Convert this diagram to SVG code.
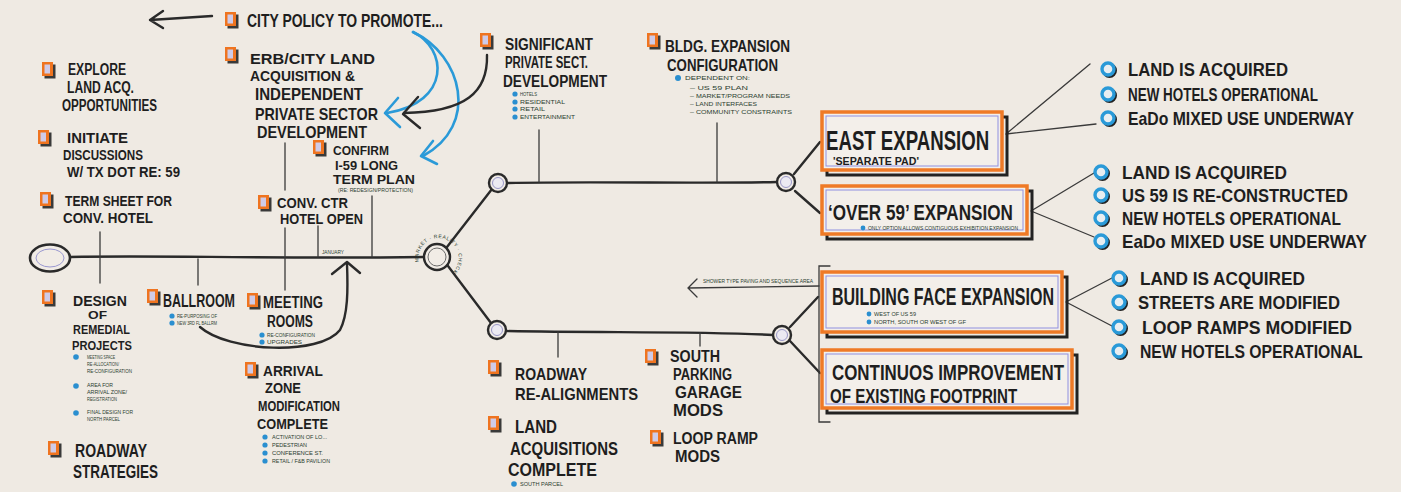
<svg xmlns="http://www.w3.org/2000/svg" xmlns:xlink="http://www.w3.org/1999/xlink" width="1401" height="492" viewBox="0 0 1401 492">
  <style>
    .t { font-family: "Liberation Sans Narrow", "Liberation Sans", "DejaVu Sans Condensed", sans-serif; font-weight: bold; fill: #1e1e1e; }
    .s { font-family: "Liberation Sans Narrow", "Liberation Sans", sans-serif; fill: #2b4030; font-size: 5px; }
    .ln { fill: none; stroke: #2a2a2a; stroke-width: 2.4; stroke-linecap: round; stroke-linejoin: round; }
    .thin { fill: none; stroke: #3a3a3a; stroke-width: 1.3; stroke-linecap: round; }
    .blue { fill: none; stroke: #2a9ad8; stroke-width: 2.6; stroke-linecap: round; stroke-linejoin: round; }
    .dot { fill: #2a8fd0; }
    .box { fill: #f3efea; stroke: #ef7a26; stroke-width: 3.5; }
    .boxin { fill: none; stroke: #8f90e0; stroke-width: 1; }
    .boxsh { fill: none; stroke: #222; stroke-width: 3; }
  </style>
  <defs>
    <!-- orange marker square with drop shadow -->
    <g id="ic">
      <rect x="2.5" y="2.5" width="11" height="14" fill="#3a3a3a"/>
      <rect x="0" y="0" width="11" height="14" fill="#ef7420"/>
      <rect x="2.5" y="2.5" width="5.5" height="9" fill="#cfcbe8"/>
    </g>
    <!-- large hollow blue bullet -->
    <g id="bb">
      <circle cx="1.5" cy="1.5" r="6" fill="none" stroke="#222" stroke-width="3"/>
      <circle cx="0" cy="0" r="6" fill="#e9eef1" stroke="#2a9ad8" stroke-width="3.4"/>
    </g>
    <!-- timeline junction -->
    <g id="jn">
      <circle r="9" fill="#f1ece6" stroke="#2a2a2a" stroke-width="2.4"/>
      <circle r="5.5" fill="#eceaf2" stroke="#9a98c8" stroke-width="1"/>
    </g>
    <path id="hubArc" d="M 419,262 A 20,20 0 1 1 445,277"/>
  </defs>

  <rect width="1401" height="492" fill="#efeae3"/>

  <!-- connectors -->
  <g id="connectors">
    <!-- main timeline -->
    <path class="ln" d="M70,257 C160,255 260,259 424,257"/>
    <path class="ln" d="M447,247 L492,189"/>
    <path class="ln" d="M448,266 L491,323"/>
    <path class="ln" d="M507,183 C600,181 700,184 777,182"/>
    <path class="ln" d="M505,331 C600,333 700,331 773,335"/>
    <path class="ln" d="M794,174 L820,142"/>
    <path class="ln" d="M795,191 L820,213"/>
    <path class="ln" d="M790,327 L818,297"/>
    <path class="ln" d="M790,341 L820,373"/>
    <!-- drops to timeline -->
    <path class="thin" d="M100,232 L100,283"/>
    <path class="thin" d="M285,143 L285,190 M285,228 L285,290"/>
    <path class="thin" d="M318,226 L318,257"/>
    <path class="thin" d="M372,196 L372,257"/>
    <path class="thin" d="M198,259 L198,285"/>
    <path class="thin" d="M539,130 L539,182"/>
    <path class="thin" d="M717,123 L717,182"/>
    <path class="thin" d="M558,332 L558,357"/>
    <path class="thin" d="M700,333 L700,346"/>
    <!-- policy arrow -->
    <path class="ln" d="M212,16 L150,20 M163,11 L150,20 L163,28"/>
    <!-- blue influence curves -->
    <path class="blue" d="M413,32 C447,48 452,102 387,113"/>
    <path class="blue" d="M398,98 L385,113 L400,127"/>
    <path class="blue" d="M413,32 C462,55 480,125 423,156"/>
    <path class="blue" d="M433,141 L421,156 L437,164"/>
    <!-- black curve from private development -->
    <path class="ln" d="M487,55 C488,92 466,112 404,113"/>
    <path class="ln" d="M418,97 L403,114 L420,128"/>
    <!-- ballroom loop back to timeline -->
    <path class="ln" d="M200,327 C228,352 320,356 340,330 C348,315 348,290 347,264"/>
    <path class="ln" d="M332,274 L347,262 L360,273"/>
    <!-- bracket and arrow -->
    <path class="thin" d="M830,266 L819,266 L819,422 L830,422"/>
    <path class="thin" d="M819,286 L688,288 M697,279 L688,288 L697,297"/>
    <!-- lines to outcomes -->
    <path class="thin" d="M1006,134 L1090,64 M1006,134 L1096,124"/>
    <path class="thin" d="M1031,211 L1094,173 M1031,211 L1094,237"/>
    <path class="thin" d="M1066,302 L1112,278 M1066,302 L1112,326"/>
  </g>

  <!-- timeline start and hub -->
  <g id="start">
    <ellipse cx="50" cy="258" rx="20" ry="13.5" fill="#f1ece6" stroke="#2a2a2a" stroke-width="2.6"/>
    <ellipse cx="50" cy="258" rx="14" ry="9" fill="none" stroke="#9a98d0" stroke-width="1"/>
  </g>
  <g id="hub">
    <circle cx="437" cy="257" r="13" fill="#f1ece6" stroke="#2a2a2a" stroke-width="2.4"/>
    <circle cx="437" cy="257" r="9" fill="none" stroke="#6a6a6a" stroke-width="1"/>
    <text class="s" font-size="5.5" letter-spacing="0.6"><textPath xlink:href="#hubArc" href="#hubArc">MARKET · REALITY · CHECK</textPath></text>
  </g>
  <g id="j1"><use href="#jn" x="498" y="183"/></g>
  <g id="j2"><use href="#jn" x="786" y="182"/></g>
  <g id="j3"><use href="#jn" x="497" y="330"/></g>
  <g id="j4"><use href="#jn" x="782" y="335"/></g>
  <g id="jan"><text class="s" x="322" y="254" textLength="22" lengthAdjust="spacingAndGlyphs">JANUARY</text></g>

  <!-- upper left items -->
  <g id="policy">
    <use href="#ic" x="225" y="12"/>
    <text class="t" x="247" y="27" font-size="18" textLength="196" lengthAdjust="spacingAndGlyphs">CITY POLICY TO PROMOTE...</text>
  </g>
  <g id="erb">
    <use href="#ic" x="225" y="47"/>
    <text class="t" x="250" y="64" font-size="15" textLength="125" lengthAdjust="spacingAndGlyphs">ERB/CITY LAND</text>
    <text class="t" x="250" y="81" font-size="15" textLength="105" lengthAdjust="spacingAndGlyphs">ACQUISITION &amp;</text>
    <text class="t" x="255" y="100" font-size="17" textLength="108" lengthAdjust="spacingAndGlyphs">INDEPENDENT</text>
    <text class="t" x="255" y="120" font-size="17" textLength="123" lengthAdjust="spacingAndGlyphs">PRIVATE SECTOR</text>
    <text class="t" x="257" y="138" font-size="16" textLength="110" lengthAdjust="spacingAndGlyphs">DEVELOPMENT</text>
  </g>
  <g id="confirm">
    <use href="#ic" x="313" y="140"/>
    <text class="t" x="333" y="155" font-size="13" textLength="56" lengthAdjust="spacingAndGlyphs">CONFIRM</text>
    <text class="t" x="335" y="170" font-size="13" textLength="63" lengthAdjust="spacingAndGlyphs">I-59 LONG</text>
    <text class="t" x="333" y="184" font-size="13" textLength="82" lengthAdjust="spacingAndGlyphs">TERM PLAN</text>
    <text class="s" x="338" y="192" textLength="75" lengthAdjust="spacingAndGlyphs">(RE: REDESIGN/PROTECTION)</text>
  </g>
  <g id="explore">
    <use href="#ic" x="42" y="62"/>
    <text class="t" x="68" y="75" font-size="16" textLength="58" lengthAdjust="spacingAndGlyphs">EXPLORE</text>
    <text class="t" x="67" y="93" font-size="16" textLength="67" lengthAdjust="spacingAndGlyphs">LAND ACQ.</text>
    <text class="t" x="62" y="111" font-size="16" textLength="95" lengthAdjust="spacingAndGlyphs">OPPORTUNITIES</text>
  </g>
  <g id="initiate">
    <use href="#ic" x="38" y="130"/>
    <text class="t" x="67" y="143" font-size="14.5" textLength="61" lengthAdjust="spacingAndGlyphs">INITIATE</text>
    <text class="t" x="63" y="160" font-size="14.5" textLength="80" lengthAdjust="spacingAndGlyphs">DISCUSSIONS</text>
    <text class="t" x="67" y="177" font-size="14.5" textLength="113" lengthAdjust="spacingAndGlyphs">W/ TX DOT RE: 59</text>
  </g>
  <g id="termsheet">
    <use href="#ic" x="40" y="192"/>
    <text class="t" x="65" y="206" font-size="15" textLength="107" lengthAdjust="spacingAndGlyphs">TERM SHEET FOR</text>
    <text class="t" x="63" y="223" font-size="15" textLength="90" lengthAdjust="spacingAndGlyphs">CONV. HOTEL</text>
  </g>
  <g id="hotel">
    <use href="#ic" x="258" y="195"/>
    <text class="t" x="277" y="208" font-size="14.5" textLength="71" lengthAdjust="spacingAndGlyphs">CONV. CTR</text>
    <text class="t" x="280" y="224" font-size="14.5" textLength="83" lengthAdjust="spacingAndGlyphs">HOTEL OPEN</text>
  </g>

  <!-- lower left items -->
  <g id="design">
    <use href="#ic" x="42" y="290"/>
    <text class="t" x="73" y="306" font-size="15" textLength="54" lengthAdjust="spacingAndGlyphs">DESIGN</text>
    <text class="t" x="88" y="319" font-size="11" textLength="19" lengthAdjust="spacingAndGlyphs">OF</text>
    <text class="t" x="73" y="334" font-size="13" textLength="57" lengthAdjust="spacingAndGlyphs">REMEDIAL</text>
    <text class="t" x="72" y="350" font-size="13" textLength="60" lengthAdjust="spacingAndGlyphs">PROJECTS</text>
    <circle class="dot" cx="76" cy="357" r="2.8"/>
    <text class="s" x="87" y="359" textLength="28" lengthAdjust="spacingAndGlyphs">MEETING SPACE</text>
    <text class="s" x="87" y="366" textLength="32" lengthAdjust="spacingAndGlyphs">RE-ALLOCATION/</text>
    <text class="s" x="87" y="373" textLength="45" lengthAdjust="spacingAndGlyphs">RE-CONFIGURATION</text>
    <circle class="dot" cx="76" cy="386" r="2.8"/>
    <text class="s" x="87" y="387" textLength="26" lengthAdjust="spacingAndGlyphs">AREA FOR</text>
    <text class="s" x="87" y="394" textLength="40" lengthAdjust="spacingAndGlyphs">ARRIVAL ZONE/</text>
    <text class="s" x="87" y="401" textLength="30" lengthAdjust="spacingAndGlyphs">REGISTRATION</text>
    <circle class="dot" cx="76" cy="413" r="2.8"/>
    <text class="s" x="87" y="414" textLength="46" lengthAdjust="spacingAndGlyphs">FINAL DESIGN FOR</text>
    <text class="s" x="87" y="421" textLength="33" lengthAdjust="spacingAndGlyphs">NORTH PARCEL</text>
  </g>
  <g id="roadwaystrat">
    <use href="#ic" x="48" y="441"/>
    <text class="t" x="75" y="457" font-size="18" textLength="72" lengthAdjust="spacingAndGlyphs">ROADWAY</text>
    <text class="t" x="73" y="478" font-size="18" textLength="85" lengthAdjust="spacingAndGlyphs">STRATEGIES</text>
  </g>
  <g id="ballroom">
    <use href="#ic" x="147" y="289"/>
    <text class="t" transform="translate(163,307) scale(0.75,1)" font-size="19" textLength="96" lengthAdjust="spacingAndGlyphs">BALLROOM</text>
    <circle class="dot" cx="172" cy="316" r="2.6"/>
    <text class="s" x="177" y="318" textLength="40" lengthAdjust="spacingAndGlyphs">RE-PURPOSING OF</text>
    <circle class="dot" cx="172" cy="323" r="2.6"/>
    <text class="s" x="177" y="325" textLength="40" lengthAdjust="spacingAndGlyphs">NEW 3RD FL BALLRM</text>
  </g>
  <g id="meeting">
    <use href="#ic" x="247" y="293"/>
    <text class="t" x="263" y="308" font-size="16" textLength="60" lengthAdjust="spacingAndGlyphs">MEETING</text>
    <text class="t" x="267" y="327" font-size="16" textLength="46" lengthAdjust="spacingAndGlyphs">ROOMS</text>
    <circle class="dot" cx="262" cy="335" r="2.6"/>
    <text class="s" x="267" y="337" textLength="48" lengthAdjust="spacingAndGlyphs">RE-CONFIGURATION</text>
    <circle class="dot" cx="262" cy="342" r="2.6"/>
    <text class="s" x="267" y="344" textLength="35" lengthAdjust="spacingAndGlyphs">UPGRADES</text>
  </g>
  <g id="arrival">
    <use href="#ic" x="245" y="362"/>
    <text class="t" x="263" y="376" font-size="15" textLength="60" lengthAdjust="spacingAndGlyphs">ARRIVAL</text>
    <text class="t" x="265" y="393" font-size="15" textLength="36" lengthAdjust="spacingAndGlyphs">ZONE</text>
    <text class="t" x="258" y="411" font-size="15" textLength="82" lengthAdjust="spacingAndGlyphs">MODIFICATION</text>
    <text class="t" x="257" y="429" font-size="15" textLength="71" lengthAdjust="spacingAndGlyphs">COMPLETE</text>
    <circle class="dot" cx="265" cy="437" r="2.6"/>
    <text class="s" x="272" y="439" textLength="55" lengthAdjust="spacingAndGlyphs">ACTIVATION OF LO...</text>
    <circle class="dot" cx="265" cy="445" r="2.6"/>
    <text class="s" x="272" y="447" textLength="35" lengthAdjust="spacingAndGlyphs">PEDESTRIAN</text>
    <circle class="dot" cx="265" cy="453" r="2.6"/>
    <text class="s" x="272" y="455" textLength="51" lengthAdjust="spacingAndGlyphs">CONFERENCE ST.</text>
    <circle class="dot" cx="265" cy="461" r="2.6"/>
    <text class="s" x="272" y="463" textLength="58" lengthAdjust="spacingAndGlyphs">RETAIL / F&amp;B PAVILION</text>
  </g>

  <!-- centre items -->
  <g id="private">
    <use href="#ic" x="480" y="33"/>
    <text class="t" x="505" y="50" font-size="16" textLength="88" lengthAdjust="spacingAndGlyphs">SIGNIFICANT</text>
    <text class="t" x="505" y="68" font-size="16" textLength="83" lengthAdjust="spacingAndGlyphs">PRIVATE SECT.</text>
    <text class="t" x="503" y="87" font-size="16" textLength="104" lengthAdjust="spacingAndGlyphs">DEVELOPMENT</text>
    <circle class="dot" cx="515" cy="94" r="2.6"/>
    <text class="s" x="520" y="96" textLength="17" lengthAdjust="spacingAndGlyphs">HOTELS</text>
    <circle class="dot" cx="515" cy="102" r="2.6"/>
    <text class="s" x="520" y="104" textLength="45" lengthAdjust="spacingAndGlyphs">RESIDENTIAL</text>
    <circle class="dot" cx="515" cy="109" r="2.6"/>
    <text class="s" x="520" y="111" textLength="25" lengthAdjust="spacingAndGlyphs">RETAIL</text>
    <circle class="dot" cx="515" cy="117" r="2.6"/>
    <text class="s" x="520" y="119" textLength="55" lengthAdjust="spacingAndGlyphs">ENTERTAINMENT</text>
  </g>
  <g id="bldgconfig">
    <use href="#ic" x="647" y="33"/>
    <text class="t" x="665" y="52" font-size="17" textLength="125" lengthAdjust="spacingAndGlyphs">BLDG. EXPANSION</text>
    <text class="t" x="667" y="71" font-size="17" textLength="111" lengthAdjust="spacingAndGlyphs">CONFIGURATION</text>
    <circle class="dot" cx="678" cy="78" r="3"/>
    <text class="s" x="685" y="80" textLength="65" lengthAdjust="spacingAndGlyphs">DEPENDENT ON:</text>
    <text class="s" x="690" y="90" textLength="58" lengthAdjust="spacingAndGlyphs">– US 59 PLAN</text>
    <text class="s" x="690" y="98" textLength="100" lengthAdjust="spacingAndGlyphs">– MARKET/PROGRAM NEEDS</text>
    <text class="s" x="690" y="106" textLength="67" lengthAdjust="spacingAndGlyphs">– LAND INTERFACES</text>
    <text class="s" x="690" y="114" textLength="102" lengthAdjust="spacingAndGlyphs">– COMMUNITY CONSTRAINTS</text>
  </g>
  <g id="roadwayre">
    <use href="#ic" x="488" y="360"/>
    <text class="t" x="515" y="380" font-size="17" textLength="72" lengthAdjust="spacingAndGlyphs">ROADWAY</text>
    <text class="t" x="515" y="400" font-size="17" textLength="123" lengthAdjust="spacingAndGlyphs">RE-ALIGNMENTS</text>
  </g>
  <g id="landacq">
    <use href="#ic" x="488" y="416"/>
    <text class="t" x="515" y="433" font-size="18" textLength="42" lengthAdjust="spacingAndGlyphs">LAND</text>
    <text class="t" x="510" y="455" font-size="18" textLength="108" lengthAdjust="spacingAndGlyphs">ACQUISITIONS</text>
    <text class="t" x="508" y="476" font-size="18" textLength="89" lengthAdjust="spacingAndGlyphs">COMPLETE</text>
    <circle class="dot" cx="514" cy="484" r="2.8"/>
    <text class="s" x="520" y="486" textLength="43" lengthAdjust="spacingAndGlyphs">SOUTH PARCEL</text>
  </g>
  <g id="parking">
    <use href="#ic" x="645" y="349"/>
    <text class="t" x="670" y="362" font-size="16" textLength="50" lengthAdjust="spacingAndGlyphs">SOUTH</text>
    <text class="t" x="673" y="380" font-size="16" textLength="59" lengthAdjust="spacingAndGlyphs">PARKING</text>
    <text class="t" x="675" y="398" font-size="16" textLength="67" lengthAdjust="spacingAndGlyphs">GARAGE</text>
    <text class="t" x="673" y="416" font-size="16" textLength="50" lengthAdjust="spacingAndGlyphs">MODS</text>
  </g>
  <g id="loopramp">
    <use href="#ic" x="650" y="430"/>
    <text class="t" x="673" y="444" font-size="16" textLength="85" lengthAdjust="spacingAndGlyphs">LOOP RAMP</text>
    <text class="t" x="675" y="462" font-size="16" textLength="45" lengthAdjust="spacingAndGlyphs">MODS</text>
  </g>
  <g id="paving-note">
    <text class="s" x="703" y="283" textLength="110" lengthAdjust="spacingAndGlyphs">SHOWER TYPE PAVING AND SEQUENCE AREA</text>
  </g>

  <!-- expansion options -->
  <g id="east">
    <rect class="boxsh" x="827" y="117" width="180" height="58"/>
    <rect class="box" x="822" y="112" width="180" height="58"/>
    <rect class="boxin" x="826" y="116" width="172" height="50"/>
    <text class="t" transform="translate(826,150) scale(0.8,1)" font-size="27" textLength="204" lengthAdjust="spacingAndGlyphs">EAST EXPANSION</text>
    <text class="t" x="833" y="165" font-size="11" textLength="86" lengthAdjust="spacingAndGlyphs">'SEPARATE PAD'</text>
  </g>
  <g id="over59">
    <rect class="boxsh" x="827" y="191" width="205" height="48"/>
    <rect class="box" x="822" y="186" width="205" height="48"/>
    <rect class="boxin" x="826" y="190" width="197" height="40"/>
    <text class="t" transform="translate(828,220) scale(0.8,1)" font-size="22" textLength="231" lengthAdjust="spacingAndGlyphs">‘OVER 59’ EXPANSION</text>
    <circle class="dot" cx="863" cy="228" r="2.4"/>
    <text class="s" x="868" y="230" textLength="150" lengthAdjust="spacingAndGlyphs">ONLY OPTION ALLOWS CONTIGUOUS EXHIBITION EXPANSION</text>
  </g>
  <g id="buildingface">
    <rect class="boxsh" x="827" y="277" width="240" height="60"/>
    <rect class="box" x="822" y="272" width="240" height="60"/>
    <rect class="boxin" x="826" y="276" width="232" height="52"/>
    <text class="t" transform="translate(832,305) scale(0.8,1)" font-size="24" textLength="277.5" lengthAdjust="spacingAndGlyphs">BUILDING FACE EXPANSION</text>
    <circle class="dot" cx="869" cy="314" r="2.4"/>
    <text class="s" x="874" y="316" textLength="42" lengthAdjust="spacingAndGlyphs">WEST OF US 59</text>
    <circle class="dot" cx="869" cy="322" r="2.4"/>
    <text class="s" x="874" y="324" textLength="92" lengthAdjust="spacingAndGlyphs">NORTH, SOUTH OR WEST OF GF</text>
  </g>
  <g id="continuous">
    <rect class="boxsh" x="827" y="355" width="250" height="58"/>
    <rect class="box" x="822" y="350" width="250" height="58"/>
    <rect class="boxin" x="826" y="354" width="242" height="50"/>
    <text class="t" transform="translate(832,380) scale(0.8,1)" font-size="22" textLength="290" lengthAdjust="spacingAndGlyphs">CONTINUOS IMPROVEMENT</text>
    <text class="t" transform="translate(830,403) scale(0.8,1)" font-size="20" textLength="234" lengthAdjust="spacingAndGlyphs">OF EXISTING FOOTPRINT</text>
  </g>

  <!-- outcomes -->
  <g id="east-outcomes">
    <use href="#bb" x="1108" y="69"/>
    <text class="t" x="1128" y="76" font-size="19" textLength="160" lengthAdjust="spacingAndGlyphs">LAND IS ACQUIRED</text>
    <use href="#bb" x="1108" y="94"/>
    <text class="t" x="1128" y="101" font-size="19" textLength="190" lengthAdjust="spacingAndGlyphs">NEW HOTELS OPERATIONAL</text>
    <use href="#bb" x="1108" y="118"/>
    <text class="t" x="1128" y="125" font-size="19" textLength="226" lengthAdjust="spacingAndGlyphs">EaDo MIXED USE UNDERWAY</text>
  </g>
  <g id="over59-outcomes">
    <use href="#bb" x="1101" y="172"/>
    <text class="t" x="1122" y="179" font-size="19" textLength="165" lengthAdjust="spacingAndGlyphs">LAND IS ACQUIRED</text>
    <use href="#bb" x="1101" y="195"/>
    <text class="t" x="1122" y="202" font-size="19" textLength="226" lengthAdjust="spacingAndGlyphs">US 59 IS RE-CONSTRUCTED</text>
    <use href="#bb" x="1101" y="218"/>
    <text class="t" x="1122" y="225" font-size="19" textLength="219" lengthAdjust="spacingAndGlyphs">NEW HOTELS OPERATIONAL</text>
    <use href="#bb" x="1101" y="241"/>
    <text class="t" x="1122" y="248" font-size="19" textLength="245" lengthAdjust="spacingAndGlyphs">EaDo MIXED USE UNDERWAY</text>
  </g>
  <g id="face-outcomes">
    <use href="#bb" x="1119" y="278"/>
    <text class="t" x="1140" y="285" font-size="19" textLength="165" lengthAdjust="spacingAndGlyphs">LAND IS ACQUIRED</text>
    <use href="#bb" x="1119" y="302"/>
    <text class="t" x="1138" y="309" font-size="19" textLength="202" lengthAdjust="spacingAndGlyphs">STREETS ARE MODIFIED</text>
    <use href="#bb" x="1119" y="327"/>
    <text class="t" x="1142" y="334" font-size="19" textLength="210" lengthAdjust="spacingAndGlyphs">LOOP RAMPS MODIFIED</text>
    <use href="#bb" x="1119" y="351"/>
    <text class="t" transform="translate(1140,358) scale(0.85,1)" font-size="19" textLength="262" lengthAdjust="spacingAndGlyphs">NEW HOTELS OPERATIONAL</text>
  </g>
</svg>
